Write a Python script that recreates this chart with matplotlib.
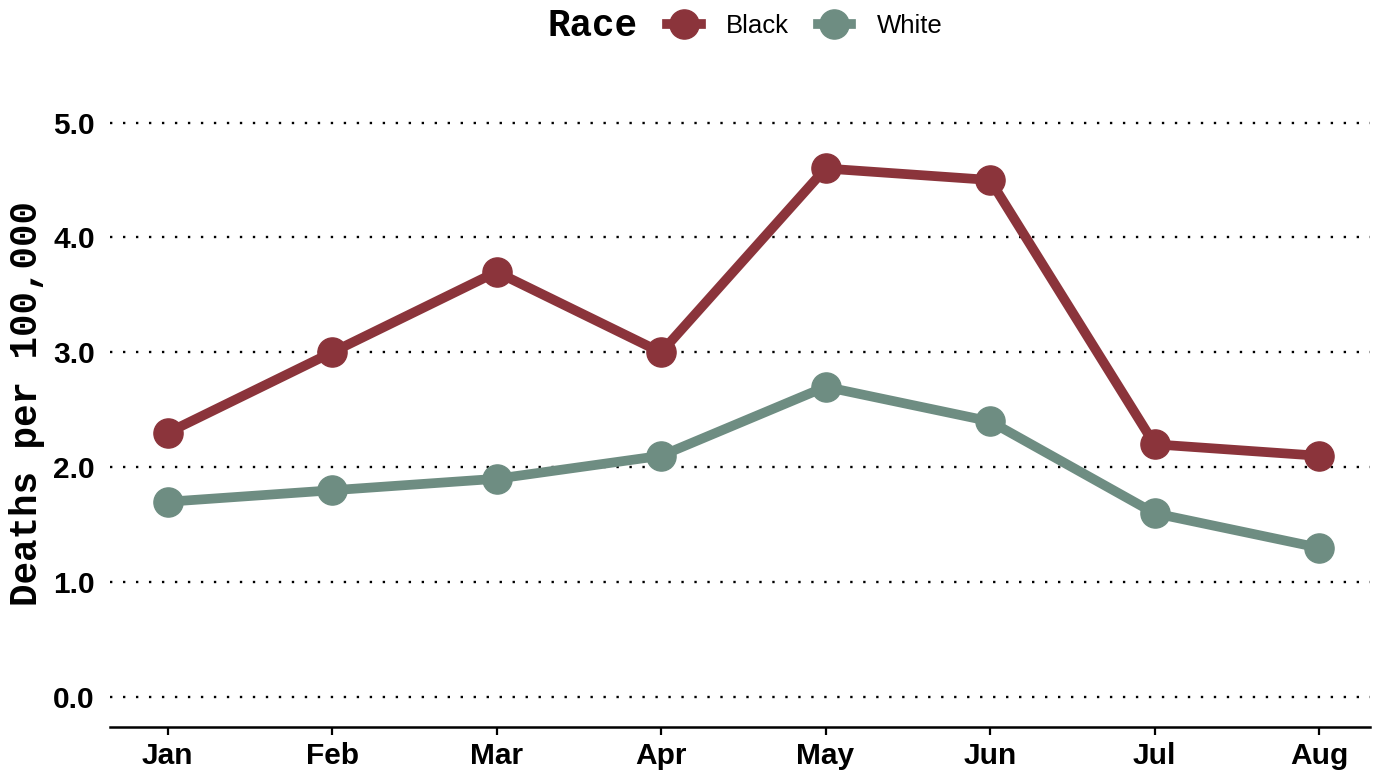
import matplotlib
matplotlib.use("Agg")
import matplotlib.pyplot as plt
from matplotlib.lines import Line2D

months = ["Jan", "Feb", "Mar", "Apr", "May", "Jun", "Jul", "Aug"]
black = [2.3, 3.0, 3.7, 3.0, 4.6, 4.5, 2.2, 2.1]
white = [1.7, 1.8, 1.9, 2.1, 2.7, 2.4, 1.6, 1.3]
yticks = [0.0, 1.0, 2.0, 3.0, 4.0, 5.0]

c_black = "#8b343b"
c_white = "#6e8d82"

fig = plt.figure(figsize=(13.84, 7.73), dpi=100)
ax = fig.add_axes([0.0795, 0.0595, 0.9104, 0.837])

x = list(range(len(months)))
for yt in yticks:
    ax.axhline(yt, color="black", lw=1.7, ls=(0, (1, 4.5)), zorder=1)

ax.plot(x, black, color=c_black, lw=7, marker="o", ms=21, zorder=3)
ax.plot(x, white, color=c_white, lw=7, marker="o", ms=21, zorder=3)

ax.set_xlim(-0.35, 7.31)
ax.set_ylim(-0.26, 5.37)
ax.set_xticks(x)
ax.set_xticklabels(months)
ax.set_yticks(yticks)
ax.set_yticklabels(["%.1f" % v for v in yticks])

for s in ["top", "right", "left"]:
    ax.spines[s].set_visible(False)
ax.spines["bottom"].set_linewidth(1.8)
ax.tick_params(axis="x", length=6, width=1.6, pad=5)
ax.tick_params(axis="y", length=0, pad=11)
for lab in ax.get_xticklabels() + ax.get_yticklabels():
    lab.set_fontfamily("Liberation Sans")
    lab.set_fontweight("bold")
    lab.set_fontsize(21.5)
    lab.set_color("black")

ax.set_ylabel("Deaths per 100,000", family="Liberation Mono", fontweight="bold",
              fontsize=27, labelpad=6)

fig.text(0.428, 0.967, "Race", family="Liberation Mono", fontweight="bold",
         fontsize=27, ha="center", va="center")
handles = [Line2D([], [], color=c_black, lw=7, marker="o", ms=21),
           Line2D([], [], color=c_white, lw=7, marker="o", ms=21)]
fig.legend(handles, ["Black", "White"], loc="center", bbox_to_anchor=(0.5815, 0.967),
           ncol=2, frameon=False, handlelength=1.3, handletextpad=1.0,
           columnspacing=1.1, prop={"family": "Liberation Sans", "size": 18.5})

fig.savefig("out.png", dpi=100)
